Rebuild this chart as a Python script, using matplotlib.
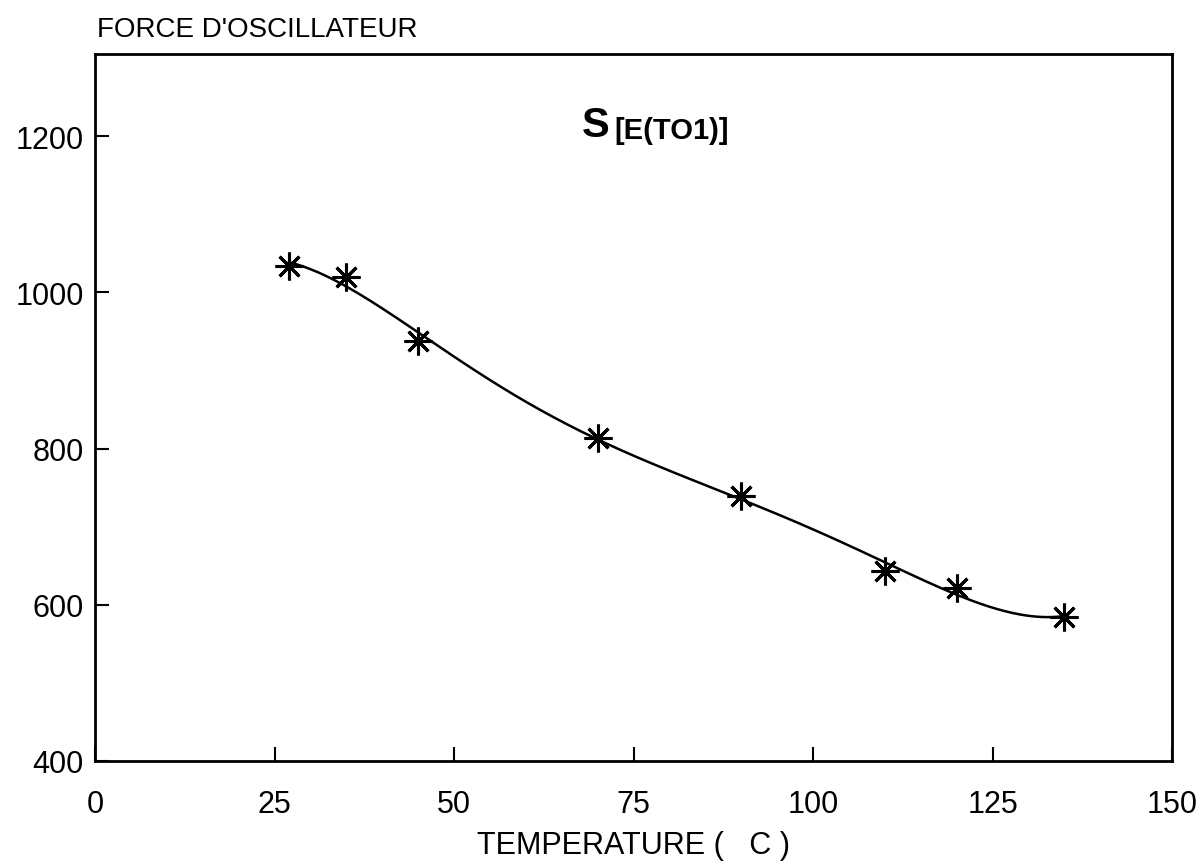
import numpy as np
import matplotlib.pyplot as plt

# Data
temperature = [27, 35, 45, 70, 90, 110, 120, 135]
force = [1034, 1020, 938, 814, 739, 643, 622, 584]

x_ticks = [0, 25, 50, 75, 100, 125, 150]
y_ticks = [400, 600, 800, 1000, 1200]

plt.rcParams['font.family'] = ['Liberation Sans', 'DejaVu Sans']

fig = plt.figure(figsize=(12.04, 8.62), dpi=100)
ax = fig.add_axes([95 / 1204, 1 - 762 / 862, (1172 - 95) / 1204, (762 - 55) / 862])

# smooth fitted curve through the measured points
coef = np.polyfit(temperature, force, 5)
xs = np.linspace(min(temperature), max(temperature), 300)
ax.plot(xs, np.polyval(coef, xs), color='black', lw=1.8)
ax.plot(temperature, force, linestyle='none', marker=(8, 2, 0), markersize=20,
        markeredgewidth=2.2, color='black')

ax.set_xlim(0, 150)
ax.set_ylim(400, 1305)
ax.set_xticks(x_ticks)
ax.set_yticks(y_ticks)
ax.tick_params(direction='in', length=10, width=1.5, labelsize=22, top=False, right=False)
ax.tick_params(axis='x', pad=20)
ax.tick_params(axis='y', pad=8)
for s in ax.spines.values():
    s.set_linewidth(2)

ax.set_xlabel('TEMPERATURE (   C )', fontsize=22, labelpad=8)
fig.text(97 / 1204, 1 - 30 / 862, "FORCE D'OSCILLATEUR", fontsize=20, va='center', ha='left')

fig.text(582 / 1204, 1 - 126 / 862, 'S', fontsize=30, fontweight='bold',
         ha='left', va='center')
fig.text(614 / 1204, 1 - 131 / 862, '[E(TO1)]', fontsize=21, fontweight='bold',
         ha='left', va='center')

fig.savefig('out.png', dpi=100)
